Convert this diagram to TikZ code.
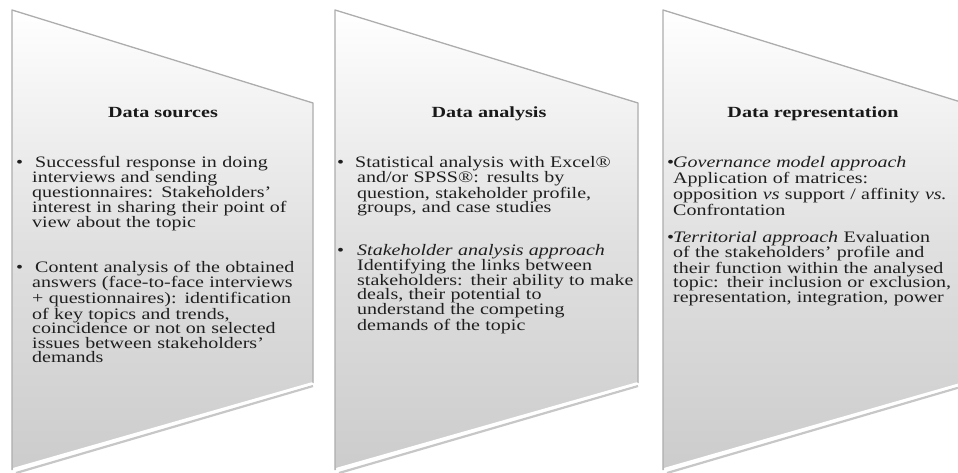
\documentclass[tikz,border=0pt]{standalone}
\usepackage{fontspec}
\setmainfont{Liberation Serif}[FakeStretch=1.25]
\newfontfamily\headfont{Liberation Serif}[FakeStretch=1.3]
\usepackage{tikz}
\usetikzlibrary{shapes}
\usetikzlibrary{positioning}
\tikzstyle{panel}=[top color=white, bottom color=black!20, middle color=black!12]
\tikzstyle{rim}=[draw=black!32, line width=1.3pt, line join=round]
\tikzstyle{lip}=[white, line width=2.6pt, line cap=round]
\tikzstyle{lipshade}=[black!22, line width=2.2pt]
\tikzstyle{head}=[inner sep=0, anchor=base, text=black!90,
                  font=\headfont\fontsize{15.5}{16}\selectfont\bfseries]
\tikzstyle{item}=[inner sep=0, anchor=base west, text width=300pt, align=left,
                  text=black!88, font=\fontsize{16}{14.6}\selectfont]
% bullet hanging #1 pt left of the text
\newcommand{\bul}[1]{\llap{\makebox[#1pt][l]{\textbullet}}}

\begin{document}
\begin{tikzpicture}[x=1pt, y=-1pt]
    \clip (0,0) rectangle (958,473);
    \fill[white] (0,0) rectangle (958,473);
    % the three bevelled panels
    \foreach \l/\r in {12/313, 335/638, 663/964}{
      \draw[lipshade] (\l+4,473) -- (\r,386);
      \path[panel] (\l,10) -- (\r,103) -- (\r,383) -- (\l,470) -- cycle;
      \draw[rim] (\l,470) -- (\l,10) -- (\r,103) -- (\r,383);
      \draw[lip] (\l+2,469) -- (\r-1,383.5);
    }
    % headings
    \node[head] (src) at (163,118) {Data sources};
    \node[head] (ana) at (489,118) {Data analysis};
    \node[head] (rep) at (813,118) {Data representation};
    % sources
    \node[item] (src1) at (32,168) {\bul{16}\hspace{3pt}Successful response in doing\\
      interviews and sending\\
      questionnaires: Stakeholders’\\
      interest in sharing their point of\\
      view about the topic};
    \node[item] (src2) at (32,272) {\bul{16}\hspace{3pt}Content analysis of the obtained\\
      answers (face-to-face interviews\\
      + questionnaires): identification\\
      of key topics and trends,\\
      coincidence or not on selected\\
      issues between stakeholders’\\
      demands};
    % analysis
    \node[item] (ana1) at (357,168) {\bul{20}\hspace{-2pt}Statistical analysis with Excel®\\
      and/or SPSS®: results by\\
      question, stakeholder profile,\\
      groups, and case studies};
    \node[item] (ana2) at (357,255) {\bul{20}\textit{Stakeholder analysis approach}\\
      Identifying the links between\\
      stakeholders: their ability to make\\
      deals, their potential to\\
      understand the competing\\
      demands of the topic};
    % representation
    \node[item] (rep1) at (673,168) {\bul{6}\textit{Governance model approach}\\
      Application of matrices:\\
      opposition \textit{vs} support / affinity \textit{vs.}\\
      Confrontation};
    \node[item] (rep2) at (673,242) {\bul{6}\textit{Territorial approach} Evaluation\\
      of the stakeholders’ profile and\\
      their function within the analysed\\
      topic: their inclusion or exclusion,\\
      representation, integration, power};
  \end{tikzpicture}
\end{document}
